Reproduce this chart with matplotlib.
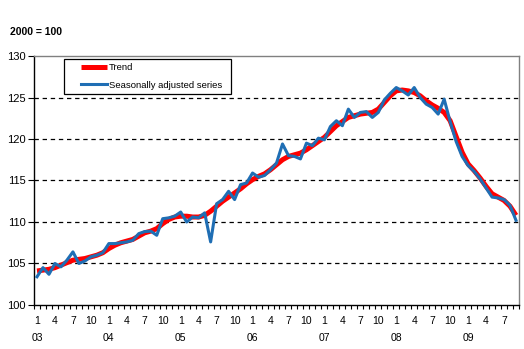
import numpy as np
import matplotlib
matplotlib.use('Agg')
import matplotlib.pyplot as plt
from matplotlib.ticker import FixedLocator
from matplotlib.patches import Rectangle

plt.rcParams['font.family'] = ['Liberation Sans', 'DejaVu Sans']

# monthly index, 2003-01 .. 2009-09 (2000 = 100)
YEARS = ['03', '04', '05', '06', '07', '08', '09']
MONTH_LABELS = ['1', '4', '7', '10']

seasonally_adjusted = [
    103.4, 104.5, 103.7, 105.0, 104.6, 105.4, 106.4, 105.0, 105.3, 105.8, 106.0, 106.3,
    107.4, 107.4, 107.5, 107.6, 107.8, 108.6, 108.85, 108.9, 108.4, 110.4, 110.5, 110.7,
    111.2, 110.0, 110.6, 110.5, 111.1, 107.6, 112.2, 112.7, 113.7, 112.7, 114.5, 114.7,
    115.9, 115.4, 115.6, 116.3, 117.1, 119.4, 118.0, 117.9, 117.6, 119.5, 119.2, 120.1,
    119.9, 121.5, 122.2, 121.6, 123.6, 122.6, 123.2, 123.3, 122.6, 123.2, 124.7, 125.5,
    126.2, 125.8, 125.3, 126.2, 125.0, 124.2, 123.8, 123.0, 124.8, 122.1, 119.7, 117.9,
    116.8, 116.1, 115.2, 114.1, 113.0, 112.9, 112.7, 112.0, 110.2,
]

trend = [
    104.1, 104.2, 104.3, 104.5, 104.8, 105.1, 105.4, 105.5, 105.6, 105.8, 106.0, 106.3,
    106.8, 107.2, 107.5, 107.7, 107.9, 108.3, 108.7, 108.9, 109.2, 109.8, 110.3, 110.6,
    110.7, 110.7, 110.6, 110.6, 110.8, 111.3, 111.9, 112.5, 113.0, 113.5, 114.0, 114.6,
    115.1, 115.5, 115.8, 116.3, 116.9, 117.5, 117.9, 118.1, 118.3, 118.7, 119.2, 119.7,
    120.2, 120.9, 121.6, 122.1, 122.6, 122.8, 123.0, 123.1, 123.2, 123.6, 124.4, 125.2,
    125.8, 125.9, 125.8, 125.6, 125.2, 124.6, 124.1, 123.7, 123.2, 122.2, 120.3, 118.4,
    117.0, 116.2, 115.3, 114.3, 113.4, 113.0, 112.6, 111.9, 110.8,
]

n = len(trend)
x = np.arange(n)
W, H = 524, 349

fig = plt.figure(figsize=(W / 100, H / 100), dpi=100)
ax = fig.add_axes([34 / W, 1 - 305 / H, 485 / W, 249 / H])

ax.plot(x, trend, color='#ff0000', lw=3.6, solid_capstyle='butt', label='Trend', zorder=3)
ax.plot(x, seasonally_adjusted, color='#1f6eb4', lw=2.2, label='Seasonally adjusted series', zorder=4)

ax.set_xlim(-0.5, n - 0.5)
ax.set_ylim(100, 130)
ax.set_yticks(range(100, 131, 5))
for v in range(105, 130, 5):
    ax.axhline(v, color='black', lw=0.9, ls=(0, (3.5, 3)), zorder=1)

# month labels at category centres, tick marks at category edges
label_pos = [i for i in x if (i % 12) in (0, 3, 6, 9)]
ax.set_xticks(label_pos)
ax.set_xticklabels([MONTH_LABELS[(i % 12) // 3] for i in label_pos])
ax.tick_params(axis='x', which='major', length=0, pad=8, labelsize=7.5)
ax.xaxis.set_minor_locator(FixedLocator(np.arange(-0.5, n, 1)))
ax.tick_params(axis='x', which='minor', length=3, width=0.8, direction='out')
ax.tick_params(axis='y', length=4, width=0.8, direction='out', labelsize=8, pad=2)

for k, yr in enumerate(YEARS):
    ax.text(k * 12, -0.112, yr, transform=ax.get_xaxis_transform(),
            ha='center', va='top', fontsize=7.5)

for s in ['top', 'right']:
    ax.spines[s].set_color('#808080')
    ax.spines[s].set_linewidth(1)
for s in ['left', 'bottom']:
    ax.spines[s].set_color('black')
    ax.spines[s].set_linewidth(1)

fig.text(10 / W, 1 - 32 / H, '2000 = 100', fontsize=7.5, fontweight='bold', va='center')

# legend: box drawn separately so it matches the wide Excel frame
fig.patches.append(Rectangle((64 / W, 1 - 94 / H), 167 / W, 35 / H, transform=fig.transFigure,
                             facecolor='white', edgecolor='black', lw=0.9, zorder=5))
leg = fig.legend(*ax.get_legend_handles_labels(), loc='upper left',
                 bbox_to_anchor=(81 / W, 1 - 63 / H), borderaxespad=0, borderpad=0,
                 fontsize=6.8, frameon=False, handlelength=2.8, handletextpad=0.15,
                 labelspacing=0.9)
leg.set_zorder(6)

fig.savefig('out.png', dpi=100)
